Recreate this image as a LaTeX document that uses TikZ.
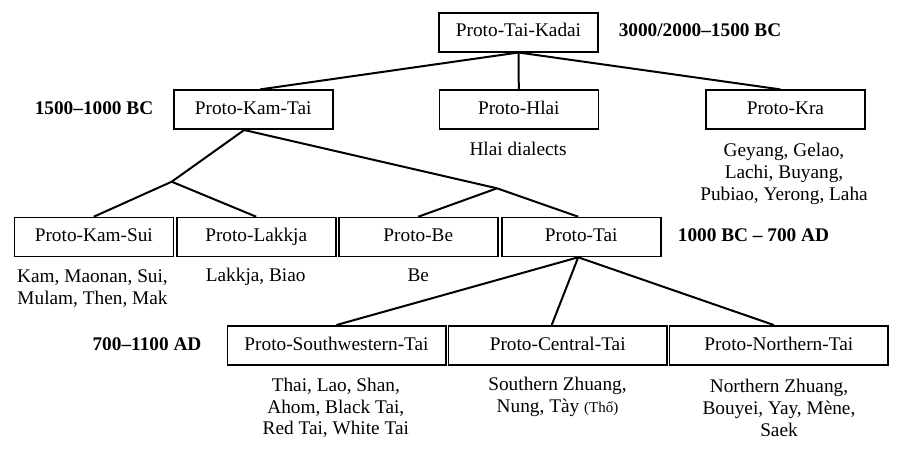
\documentclass[tikz,border=0pt]{standalone}
\usepackage{fontspec}
\setmainfont{Liberation Serif}
\usetikzlibrary{calc}
\begin{document}
\begin{tikzpicture}[x=1pt,y=-1pt,
  every node/.style={font=\fontsize{19.3}{21.7}\selectfont},
  pbox/.style={draw,line width=1.6pt,minimum width=159pt,minimum height=39pt,inner sep=0pt,text height=13.5pt,text depth=4pt},
  wbox/.style={pbox,minimum width=218.4pt},
  langs/.style={align=center,inner sep=0pt},
  lang1/.style={inner sep=0pt,text height=13.5pt,text depth=4pt},
  era/.style={font=\fontsize{19.3}{21.7}\selectfont\bfseries,inner sep=0pt,text height=13.5pt,text depth=4pt},
  conn/.style={line width=2pt}]
\useasboundingbox (0,0) rectangle (902,448);
% row 1
\node[pbox] (tk) at (518.5,32.2) {Proto-Tai-Kadai};
\node[era] (e1) at (700,32.2) {3000/2000--1500 BC};
% row 2
\node[pbox] (kt) at (253.2,109.7) {Proto-Kam-Tai};
\node[pbox] (hl) at (518.8,109.7) {Proto-Hlai};
\node[pbox] (kra) at (785.4,109.7) {Proto-Kra};
\node[era] (e2) at (94,109.7) {1500--1000 BC};
\node[lang1] (hlt) at (518,150.5) {Hlai dialects};
\node[langs] (krat) at (784,174) {Geyang, Gelao,\\Lachi, Buyang,\\Pubiao, Yerong, Laha};
% row 3
\node[pbox] (ks) at (93.8,237) {Proto-Kam-Sui};
\node[pbox] (lk) at (256.2,237) {Proto-Lakkja};
\node[pbox] (be) at (418.3,237) {Proto-Be};
\node[pbox] (tai) at (581.2,237) {Proto-Tai};
\node[era] (e3) at (753.5,237) {1000 BC -- 700 AD};
\node[langs] (kst) at (92.5,288.5) {Kam, Maonan, Sui,\\Mulam, Then, Mak};
\node[lang1] (lkt) at (255.7,277) {Lakkja, Biao};
\node[lang1] (bet) at (418.3,277) {Be};
% row 4
\node[wbox] (sw) at (336.5,345.3) {Proto-Southwestern-Tai};
\node[wbox] (ct) at (557.7,345.3) {Proto-Central-Tai};
\node[wbox] (nt) at (778.8,345.3) {Proto-Northern-Tai};
\node[era] (e4) at (147,345.3) {700--1100 AD};
\node[langs] (swt) at (335.8,408) {Thai, Lao, Shan,\\Ahom, Black Tai,\\Red Tai, White Tai};
\node[langs] (ctt) at (557.5,397) {Southern Zhuang,\\Nung, Tày {\fontsize{15}{15}\selectfont(Thổ)}};
\node[langs] (ntt) at (779,408) {Northern Zhuang,\\Bouyei, Yay, Mène,\\Saek};
% junctions
\coordinate (j1) at (171.7,181.7);
\coordinate (j2) at (497,188.3);
% connectors
\draw[conn] (tk.south) -- ($(kt.north)+(7,0)$);
\draw[conn] (tk.south) -- (hl.north);
\draw[conn] (tk.south) -- ($(kra.north)+(-5,0)$);
\draw[conn] ($(kt.south)+(-9,0)$) -- (j1);
\draw[conn] (j1) -- (ks.north);
\draw[conn] (j1) -- (lk.north);
\draw[conn] ($(kt.south)+(-9,0)$) -- (j2);
\draw[conn] (j2) -- (be.north);
\draw[conn] (j2) -- ($(tai.north)+(-3,0)$);
\draw[conn] ($(tai.south)+(-3,0)$) -- (sw.north);
\draw[conn] ($(tai.south)+(-3,0)$) -- ($(ct.north)+(-6,0)$);
\draw[conn] ($(tai.south)+(-3,0)$) -- ($(nt.north)+(-5,0)$);
\end{tikzpicture}
\end{document}
